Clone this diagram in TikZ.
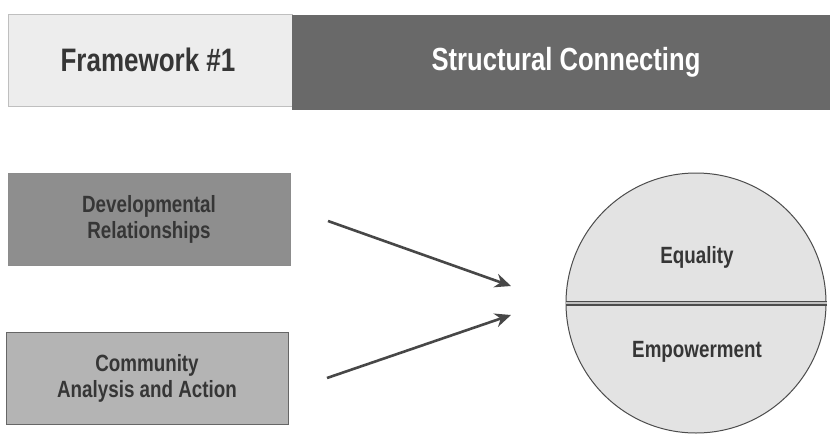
\documentclass[tikz,border=0pt]{standalone}
\usepackage{fontspec}
\setmainfont{Liberation Sans}[FakeStretch=0.80]
\usetikzlibrary{arrows.meta}
\definecolor{hdrlight}{HTML}{EDEDED}
\definecolor{hdrdark}{HTML}{696969}
\definecolor{boxdark}{HTML}{8E8E8E}
\definecolor{boxmid}{HTML}{B4B4B4}
\definecolor{circfill}{HTML}{E3E3E3}
\definecolor{txtdark}{HTML}{363636}
\definecolor{arrowcol}{HTML}{474747}
\tikzset{
  hdrbox/.style={rectangle, inner sep=0pt, anchor=north west},
  sidebox/.style={rectangle, inner sep=0pt, minimum width=282pt, minimum height=92pt, align=center,
     font=\fontsize{23.5}{26}\selectfont\bfseries, text=txtdark},
  flowarrow/.style={draw=arrowcol, line width=2.6pt, -{Stealth[length=16pt,width=14pt]}},
  circtext/.style={font=\fontsize{23.5}{26}\selectfont\bfseries, text=txtdark}
}
\begin{document}
\begin{tikzpicture}[x=1pt,y=-1pt]
\useasboundingbox[fill=white] (0,0) rectangle (830,434);
% header
\node[hdrbox, fill=hdrlight, draw=black!25, line width=0.6pt, minimum width=284pt, minimum height=92pt] (hl) at (8,14) {};
\node[hdrbox, fill=hdrdark, minimum width=538pt, minimum height=95pt] (hd) at (292,15) {};
\node[font=\fontsize{32.5}{36}\selectfont\bfseries, text=txtdark] (fw) at (148,60) {Framework \#1};
\node[font=\fontsize{32}{36}\selectfont\bfseries, text=white] (sc) at (566,62) {Structural Connecting};
% side boxes
\node[sidebox, fill=boxdark, draw=black!45, line width=0.6pt] (dev) at (149,219) {Developmental\\Relationships};
\node[sidebox, fill=boxmid, draw=black!60, line width=1pt] (com) at (147,378) {Community\\Analysis and Action};
% circle
\node[circle, fill=circfill, draw=black!70, line width=1pt, minimum size=260pt, inner sep=0pt] (circ) at (696,303) {};
\draw[draw=black!70, line width=1.8pt, double=black!25, double distance=1.4pt] (circ.west) -- (circ.east);
\node[circtext] (eq) at (697,257) {Equality};
\node[circtext] (em) at (697,352) {Empowerment};
% arrows
\coordinate (a1s) at (328,221);
\coordinate (a1e) at (511,286);
\coordinate (a2s) at (327,378);
\coordinate (a2e) at (511,315);
\draw[flowarrow] (a1s) -- (a1e);
\draw[flowarrow] (a2s) -- (a2e);
\end{tikzpicture}
\end{document}
